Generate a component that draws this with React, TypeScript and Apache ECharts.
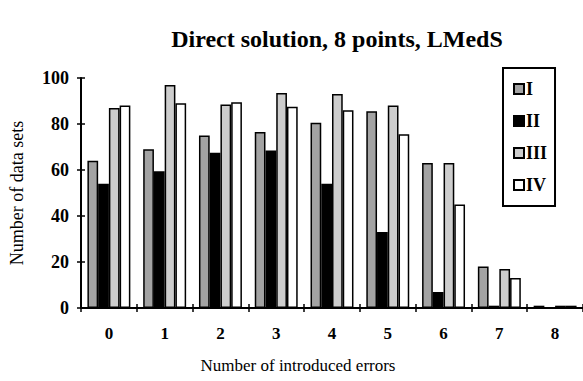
import React, { useEffect, useRef } from "react";
import * as echarts from "echarts";

const categories = ["0", "1", "2", "3", "4", "5", "6", "7", "8"];
const seriesI = [64, 69, 75, 76.5, 80.5, 85.5, 63, 18, 1];
const seriesII = [54, 59.5, 67.5, 68.5, 54, 33, 7, 1, 0];
const seriesIII = [87, 97, 88.5, 93.5, 93, 88, 63, 17, 1];
const seriesIV = [88, 89, 89.5, 87.5, 86, 75.5, 45, 13, 1];
const seriesNames = ["I", "II", "III", "IV"];
const seriesColors = ["#a3a3a3", "#000000", "#cdcdcd", "#ffffff"];

const FONT = "Liberation Serif, DejaVu Serif, serif";

export default function App() {
  const ref = useRef<HTMLDivElement>(null);
  useEffect(() => {
    if (!ref.current) return;
    const chart = echarts.init(ref.current, undefined, { renderer: "svg" });
    const data = [seriesI, seriesII, seriesIII, seriesIV];
    chart.setOption({
      animation: false,
      backgroundColor: "#ffffff",
      title: {
        text: "Direct solution, 8 points, LMedS",
        left: 332,
        textAlign: "center",
        top: 22,
        textStyle: { fontFamily: FONT, fontWeight: "bold", fontSize: 24, color: "#000" },
      },
      legend: {
        orient: "vertical",
        left: 503,
        top: 68,
        icon: "rect",
        itemWidth: 10,
        itemHeight: 10,
        itemGap: 14,
        padding: [12, 8, 12, 10],
        borderColor: "#000",
        borderWidth: 2,
        backgroundColor: "#fff",
        textStyle: { fontFamily: FONT, fontWeight: "bold", fontSize: 18, color: "#000", padding: [0, 0, 0, -3] },
        data: seriesNames,
      },
      grid: { left: 81, top: 78, width: 502, height: 230, containLabel: false, outerBoundsMode: "none" },
      xAxis: [
        {
          type: "category",
          data: categories,
          name: "Number of introduced errors",
          nameLocation: "middle",
          nameGap: 49,
          nameTextStyle: { fontFamily: FONT, fontSize: 17, color: "#000", padding: [0, 68, 0, 0] },
          axisLine: { lineStyle: { color: "#000", width: 2 } },
          axisTick: { show: true, length: 4, lineStyle: { color: "#000", width: 1.5 } },
          axisLabel: { fontFamily: FONT, fontWeight: "bold", fontSize: 17, color: "#000", margin: 17 },
        },
        {
          type: "category",
          data: categories,
          position: "bottom",
          axisLine: { show: false },
          axisTick: { show: true, inside: true, length: 4, lineStyle: { color: "#000", width: 1.5 } },
          axisLabel: { show: false },
        },
      ],
      yAxis: [
        {
          type: "value",
          min: 0,
          max: 100,
          interval: 20,
          name: "Number of data sets",
          nameLocation: "middle",
          nameGap: 55,
          nameTextStyle: { fontFamily: FONT, fontSize: 18, color: "#000" },
          axisLine: { show: true, lineStyle: { color: "#000", width: 2 } },
          axisTick: { show: true, length: 4, lineStyle: { color: "#000", width: 1.5 } },
          axisLabel: { fontFamily: FONT, fontWeight: "bold", fontSize: 18, color: "#000", margin: 12 },
          splitLine: { show: false },
        },
        {
          type: "value",
          min: 0,
          max: 100,
          interval: 20,
          position: "left",
          axisLine: { show: false },
          axisTick: { show: true, inside: true, length: 4, lineStyle: { color: "#000", width: 1.5 } },
          axisLabel: { show: false },
          splitLine: { show: false },
        },
      ],
      series: data.map((d, i) => ({
        name: seriesNames[i],
        type: "bar",
        data: d,
        barGap: "0%",
        barCategoryGap: "23%",
        itemStyle: { color: seriesColors[i], borderColor: "#000", borderWidth: 1.5 },
      })),
    });
    return () => chart.dispose();
  }, []);
  return <div ref={ref} style={{ width: 583, height: 381, position: "absolute", left: 0, top: 0 }} />;
}
